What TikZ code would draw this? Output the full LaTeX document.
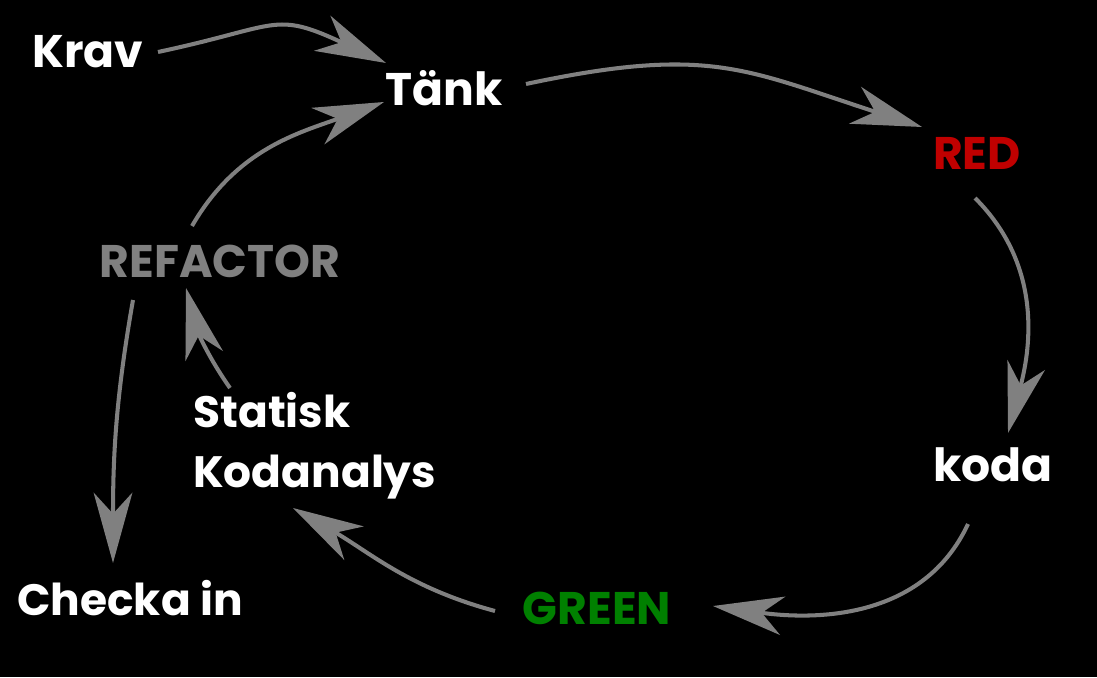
\documentclass[tikz,border=0pt]{standalone}
\usepackage{fontspec}
\setmainfont{Poppins}
\usetikzlibrary{arrows.meta,calc}
\definecolor{pilgra}{HTML}{808080}
\definecolor{rodtext}{HTML}{C00000}
\definecolor{grontext}{HTML}{008000}

\begin{document}
\begin{tikzpicture}[x=0.02cm,y=0.02cm,
    steg/.style={inner sep=0pt,text=white,font=\fontsize{25}{34}\selectfont\bfseries},
    fet/.style={font=\fontsize{26}{34}\selectfont\bfseries},
    pil/.style={pilgra,line width=2.3pt,
      -{Stealth[length=40pt,width=22pt,inset=12pt]}}]
  \fill[black](0,0)rectangle(1097,677);
  % stegen
  \node[steg,fet](krav)at(88,625){Krav};
  \node[steg,fet](tank)at(444,589){Tänk};
  \node[steg,fet,text=rodtext](red)at(977,524){RED};
  \node[steg,fet](koda)at(993,212){koda};
  \node[steg,fet,text=grontext](green)at(597,69){GREEN};
  \node[steg,align=left,anchor=west](stat)at(193,231){Statisk\\Kodanalys};
  \node[steg,fet,text=pilgra](refactor)at(220,416){REFACTOR};
  \node[steg](checka)at(130,79){Checka in};
  % pilar
  \draw[pil]($(krav)+(70,0)$)to[out=12,in=155,looseness=1.4]($(tank)+(-58,25)$);
  \draw[pil]($(tank)+(82,4)$)to[out=12,in=162,looseness=1.2]($(red)+(-55,26)$);
  \draw[pil]($(red)+(-2,-45)$)to[out=-45,in=75]($(koda)+(15,32)$);
  \draw[pil]($(koda)+(-25,-59)$)to[out=-115,in=-8]($(green)+(116,2)$);
  \draw[pil]($(green)+(-102,-3)$)to[out=165,in=-30]($(stat.west)+(100,-62)$);
  \draw[pil]($(stat.west)+(37,58)$)to[out=125,in=-75]($(refactor)+(-34,-27)$);
  \draw[pil]($(refactor)+(-28,35)$)to[out=60,in=-160]($(tank)+(-60,-14)$);
  \draw[pil]($(refactor)+(-87,-39)$)to[out=-100,in=90]($(checka)+(-17,35)$);
\end{tikzpicture}
\end{document}
